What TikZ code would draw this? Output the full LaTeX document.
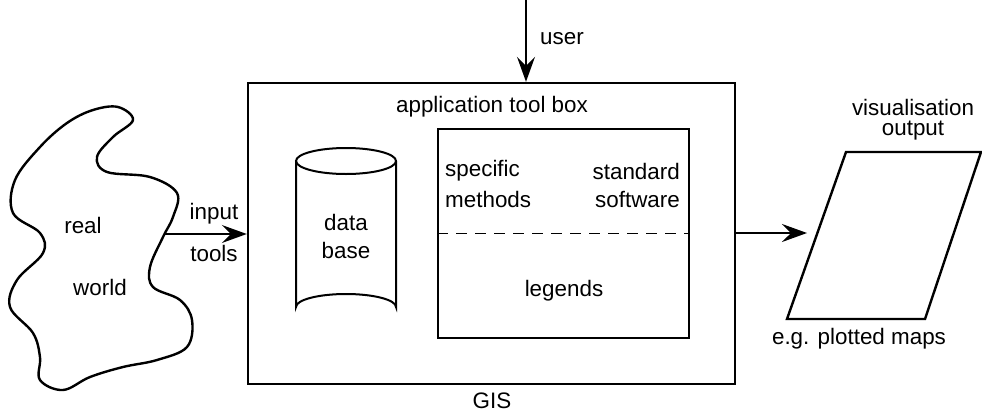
\documentclass[tikz,border=0pt]{standalone}
\usepackage{fontspec}
\setmainfont{Liberation Sans}
\usetikzlibrary{arrows.meta}
\begin{document}
\begin{tikzpicture}[x=1pt,y=-1pt,
  lbl/.style={inner sep=0pt,font=\fontsize{22.4}{26}\selectfont},
  arr/.style={line width=1.8pt,-{Stealth[length=25pt,width=18pt,inset=9pt]}},
  thick2/.style={line width=2.4pt}]
\useasboundingbox (0,0) rectangle (982,413);
% blob (real world)
\draw[thick2] plot[smooth cycle,tension=0.6] coordinates {
 (118,107) (133,120) (113,137) (97,157) (107,172) (150,177) (177,193) (173,217)
 (163,237) (150,267) (153,287) (180,300) (192,320) (187,347) (157,360) (123,367)
 (90,377) (63,390) (40,380) (40,357) (33,333) (10,307) (17,280) (43,253)
 (40,233) (13,213) (15,180) (40,147) (67,123) (93,110)};
\coordinate (blobr) at (165,234);
\node[lbl] (real) at (83,225) {real};
\node[lbl] (world) at (100,287) {world};
% main GIS box
\node[draw,thick2,minimum width=487pt,minimum height=301pt,inner sep=0pt] (gis) at (491.5,233.5) {};
\node[lbl] (gislbl) at (492,401) {GIS};
\node[lbl] (atb) at (492,107) {application tool box};
% inner box
\node[draw,line width=1.8pt,minimum width=251pt,minimum height=209pt,inner sep=0pt] (inner) at (563.5,233.5) {};
\draw[line width=1.8pt,dash pattern=on 11pt off 8pt] (inner.west) -- (inner.east);
\node[lbl,anchor=west] (spec) at (445,171) {specific};
\node[lbl,anchor=west] (meth) at (445,199) {methods};
\node[lbl,anchor=east] (stand) at (680,171) {standard};
\node[lbl,anchor=east] (soft) at (680,199) {software};
\node[lbl] (leg) at (564,291) {legends};
% cylinder
\draw[line width=2pt] (346,161) ellipse[x radius=50,y radius=13];
\draw[line width=2pt] (296,161) -- (296,307) arc[start angle=180,end angle=360,x radius=50,y radius=13] -- (396,161);
\node[lbl] (data) at (346,222) {data};
\node[lbl] (base) at (346,250) {base};
% user arrow
\coordinate (utop) at (526,0);
\draw[arr] (utop) -- (gis.north -| utop);
\node[lbl,anchor=west] (user) at (540,39) {user};
% input arrow
\draw[arr] (blobr) -- (gis.west |- blobr);
\node[lbl] (inp) at (214,214) {input};
\node[lbl] (tools) at (214,253) {tools};
% output parallelogram
\coordinate (p1) at (846,152);
\coordinate (p2) at (981,152);
\coordinate (p3) at (925,319);
\coordinate (p4) at (787,319);
\draw[thick2,line join=miter] (p1) -- (p2) -- (p3) -- (p4) -- cycle;
\coordinate (pin) at (807,233);
\draw[arr] (gis.east |- pin) -- (pin);
\node[lbl] (vis) at (913,107) {visualisation};
\node[lbl] (outp) at (913,131) {output};
\node[lbl] (eg) at (859,339) {e.g. plotted maps};
\end{tikzpicture}
\end{document}
